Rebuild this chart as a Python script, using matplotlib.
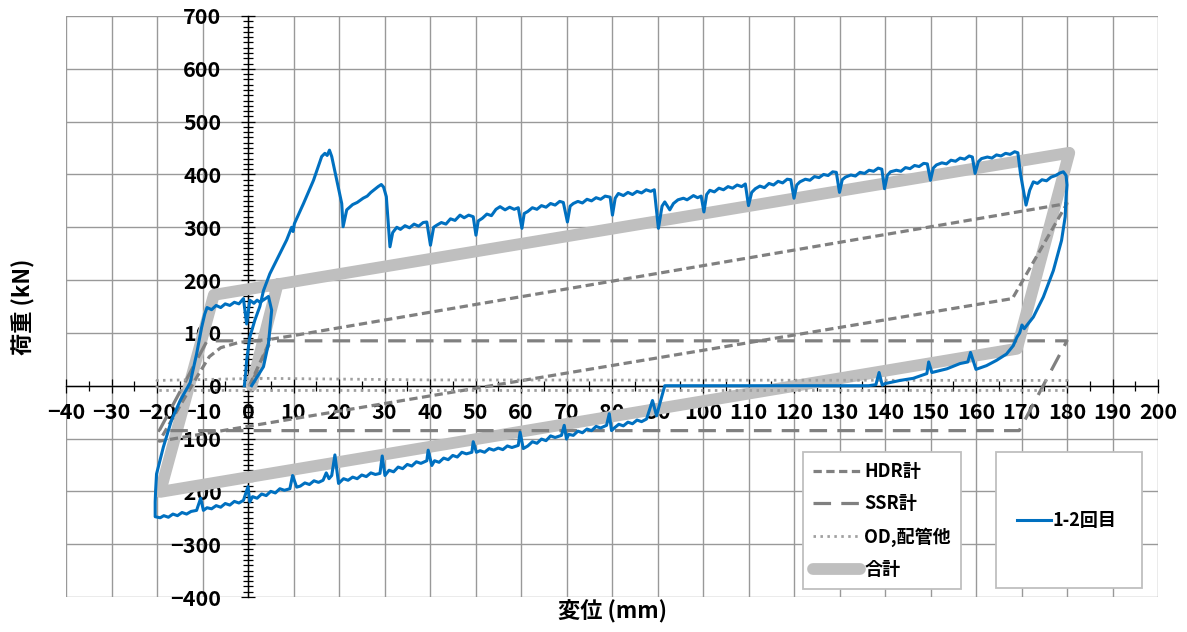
import matplotlib
matplotlib.use("Agg")
import matplotlib.pyplot as plt
from matplotlib.patches import Rectangle
from matplotlib.ticker import MultipleLocator

plt.rcParams['font.family'] = ['Noto Sans CJK JP', 'DejaVu Sans']
plt.rcParams['font.weight'] = 'bold'

# ---- data (displacement mm, load kN) ----
# HDR total
hdr_x = [0.3, 5.0, 10.7, 180.0, 168.0, -19.5, -11.0, -8.5, -6.0, -2.0, 5.0]
hdr_y = [0, 88, 96, 345, 165, -105, 20, 55, 72, 82, 88]

# SSR total
ssr_x = [0.5, 5.0, 180.0, 169.5, -19.5, -9.0, 5.0]
ssr_y = [0, 85, 85, -85, -85, 85, 85]

# OD, piping etc.
od_x = [0, 3, 15, 40, 180, 180, -20, -20, 3]
od_y = [0, 14, 13, 11, 10, -9, -9, 10, 14]

# sum of components
tot_x = [0.8, 6.5, 180.5, 169.0, -19.3, -7.5, 6.5]
tot_y = [0, 192, 441, 70, -201, 172, 192]

# measured, cycles 1-2
blue_x = [
    -0.8, -0.5, -0.3, 0.4, 1.5, 2.6, 3.4, 4.8, 6.3, 8.5, 9.6, 9.9, 10.2, 12.2,
    14.4, 16.2, 16.9, 17.4, 17.9, 18.4, 19.5, 20.6, 20.9, 21.7, 23.0, 24.0,
    25.3, 26.2, 27.0, 28.6, 29.3, 29.8, 30.4, 31.2,
    31.8, 32.7, 33.5, 34.5, 35.5, 36.5, 37.5, 38.5, 39.3, 40.1,
    40.8, 41.5, 42.5, 43.5, 44.5, 45.5, 46.6, 47.5, 48.5, 49.5, 50.1,
    50.6, 51.5, 52.5, 53.5, 54.5, 55.4, 56.5, 57.5, 58.5, 59.4, 60.2,
    60.7, 61.5, 62.5, 63.5, 64.5, 65.5, 66.5, 67.5, 68.5, 69.3, 70.2,
    70.8, 71.5, 72.5, 73.5, 74.5, 75.5, 76.5, 77.5, 78.5, 79.6, 80.1,
    80.7, 81.4, 82.5, 83.5, 84.5, 85.5, 86.5, 87.5, 88.5, 89.3, 90.2,
    91.0, 91.6, 92.7, 93.5, 94.5, 95.7, 96.5, 97.9, 98.8, 99.6, 100.2,
    100.8, 101.5, 102.5, 103.5, 104.5, 105.5, 106.5, 107.5, 108.5, 109.3, 110.0,
    110.7, 111.5, 112.5, 113.5, 114.5, 115.5, 116.5, 117.5, 118.5, 119.3, 120.0,
    120.6, 121.3, 122.5, 123.5, 124.5, 125.5, 126.5, 127.5, 128.5, 129.3, 130.0,
    130.6, 131.3, 132.5, 133.5, 134.5, 135.5, 136.5, 137.5, 138.5, 139.3, 139.9,
    140.5, 141.2, 142.5, 143.5, 144.5, 145.5, 146.5, 147.5, 148.5, 149.3, 150.0,
    150.6, 151.3, 152.5, 153.5, 154.5, 155.5, 156.5, 157.5, 158.5, 159.2, 159.8,
    160.5, 161.2, 162.5, 163.5, 164.5, 165.5, 166.5, 167.5, 168.5, 169.2, 169.8, 171.0,
    171.8, 172.6, 173.5, 174.5, 175.5, 176.5, 177.5, 178.5, 179.2, 179.8,
    180.0, 179.8, 179.6, 178.8, 177.0, 174.8, 172.6, 170.6, 170.1, 169.6, 169.0,
    168.2, 166.7, 164.5, 162.3, 160.0, 159.3, 158.8, 158.2, 156.5, 153.6, 150.3,
    149.6, 149.2, 146.2, 143.3, 140.0, 139.4, 138.7, 138.0, 136.4, 91.6,
    90.5, 89.8, 88.9, 87.6,
    86.5, 85.5, 84.5, 83.5, 82.5, 81.5, 80.5, 79.9, 79.4, 78.8,
    77.5, 76.5, 75.5, 74.5, 73.5, 72.5, 71.5, 70.5, 70.0, 69.5, 68.9,
    67.5, 66.5, 65.5, 64.5, 63.5, 62.5, 61.5, 60.5, 59.8, 59.4,
    58.0, 57.0, 56.0, 55.0, 54.0, 53.0, 52.0, 51.0, 50.2, 49.5, 49.2,
    48.0, 47.0, 46.0, 45.0, 44.0, 43.0, 42.0, 41.0, 40.4, 39.6, 39.3,
    38.0, 37.0, 36.0, 35.0, 34.0, 33.0, 32.0, 31.0, 30.1, 29.5, 29.0,
    28.0, 27.0, 26.0, 25.0, 24.0, 23.0, 22.0, 21.0, 19.9, 19.1, 18.4,
    17.8, 17.2, 16.5, 15.5, 14.5, 13.5, 12.5, 11.5, 10.7, 9.8, 9.2,
    8.0, 7.0, 6.0, 5.0, 4.0, 3.0, 2.0, 1.0, 0.4, 0.0, -1.0,
    -2.0, -3.0, -4.0, -5.0, -6.0, -7.0, -8.0, -9.0, -9.8, -10.4, -11.3,
    -12.5, -13.5, -14.5, -15.5, -16.5, -17.5, -18.5, -19.3, -20.4,
    -20.4, -20.3, -20.1, -18.6, -16.8, -14.9, -12.7, -11.3, -10.2, -9.5, -9.0,
    -8.0, -7.0, -6.0, -5.0, -4.0, -3.0, -2.0, -1.0, -0.3, 0.4, 1.3, 2.0, 2.6,
    3.5, 4.5, 5.2, 4.5, 3.4, 0.8,
]
blue_y = [
    0, 25, 48, 92, 124, 150, 180, 212, 238, 276, 300, 292, 307, 345,
    389, 434, 440, 436, 446, 434, 389, 345, 301, 333, 343, 347,
    355, 359, 366, 377, 381, 376, 358, 263,
    290, 300, 296, 303, 299, 306, 302, 309, 310, 266,
    300, 304, 309, 306, 316, 313, 323, 318, 323, 320, 285,
    312, 317, 325, 322, 334, 339, 333, 338, 334, 337, 298,
    326, 330, 337, 334, 341, 338, 345, 342, 349, 347, 310,
    340, 345, 349, 346, 353, 350, 356, 353, 359, 357, 323,
    355, 364, 360, 366, 362, 368, 365, 371, 368, 371, 298,
    340, 348, 333, 345, 352, 355, 352, 360, 356, 359, 329,
    362, 370, 367, 374, 371, 377, 374, 380, 377, 382, 341,
    366, 373, 378, 375, 383, 380, 387, 384, 391, 390, 355,
    380, 386, 391, 389, 396, 394, 400, 398, 405, 404, 366,
    390, 395, 399, 397, 404, 402, 408, 406, 412, 410, 373,
    398, 405, 408, 406, 413, 411, 417, 415, 421, 420, 389,
    412, 418, 422, 420, 427, 425, 431, 429, 435, 433, 402,
    424, 430, 433, 431, 437, 435, 440, 438, 443, 441, 400, 342,
    370, 386, 383, 390, 388, 395, 398, 403, 405, 398,
    380, 358, 320, 275, 218, 168, 130, 108, 115, 100, 92,
    76, 60, 48, 38, 31, 50, 63, 45, 42, 32, 25,
    45, 23, 14, 10, 4, 1, 25, 2, 0, 0,
    -34, -57, -28, -63,
    -68, -65, -72, -69, -76, -73, -80, -85, -53, -75,
    -80, -77, -85, -82, -89, -86, -94, -92, -101, -75, -94,
    -98, -95, -104, -101, -109, -106, -114, -119, -88, -113,
    -117, -114, -121, -118, -122, -119, -126, -123, -126, -106, -126,
    -129, -126, -135, -132, -140, -137, -145, -142, -151, -122, -142,
    -147, -144, -152, -149, -157, -154, -163, -160, -170, -133, -166,
    -168, -165, -172, -169, -176, -173, -179, -176, -185, -131, -170,
    -176, -165, -179, -183, -180, -187, -184, -190, -192, -170, -195,
    -198, -195, -203, -200, -208, -205, -213, -210, -220, -191, -217,
    -222, -219, -226, -223, -230, -227, -233, -231, -236, -213, -236,
    -238, -243, -240, -246, -243, -249, -246, -250, -248,
    -220, -198, -167, -116, -65, -28, 6, 60, 110, 136, 148,
    144, 152, 148, 155, 152, 158, 155, 165, 117, 162, 156, 162, 158,
    163, 169, 143, 80, 36, 0,
]

x_ticks = list(range(-40, 201, 10))
y_ticks = list(range(-400, 701, 100))

# ---- figure ----
fig = plt.figure(figsize=(11.87, 6.32), dpi=100)
ax = fig.add_axes([66 / 1187, 35 / 632, 1092 / 1187, 581 / 632])

grey = '#808080'
l_tot, = ax.plot(tot_x, tot_y, color='#bfbfbf', lw=8.5, solid_capstyle='round',
                 solid_joinstyle='round', zorder=2, label='合計')
l_hdr, = ax.plot(hdr_x, hdr_y, color=grey, lw=2.3, dashes=(2.6, 1.4),
                 zorder=3, label='HDR計')
l_ssr, = ax.plot(ssr_x, ssr_y, color=grey, lw=2.3, dashes=(5.5, 3.2),
                 zorder=3, label='SSR計')
l_od, = ax.plot(od_x, od_y, color='#a0a0a0', lw=2.0, dashes=(0.9, 1.6),
                zorder=3, label='OD,配管他')
l_blue, = ax.plot(blue_x, blue_y, color='#0070c0', lw=2.2, zorder=4,
                  label='1-2回目')

ax.set_xlim(-40, 200)
ax.set_ylim(-400, 700)
ax.set_xticks(x_ticks)
ax.set_yticks(y_ticks)
ax.xaxis.set_minor_locator(MultipleLocator(5))
ax.yaxis.set_minor_locator(MultipleLocator(10))

ax.spines['left'].set_position(('data', 0))
ax.spines['bottom'].set_position(('data', 0))
ax.spines['top'].set_visible(False)
ax.spines['right'].set_visible(False)
for s in ('left', 'bottom'):
    ax.spines[s].set_linewidth(1.0)
    ax.spines[s].set_zorder(1)

ax.set_axisbelow(True)
ax.grid(True, which='major', color='#999999', lw=1.0)
ax.tick_params(which='major', direction='inout', length=10, width=0.9,
               labelsize=15.5, colors='black')
ax.tick_params(which='minor', direction='inout', length=7, width=0.9)
ax.tick_params(axis='y', pad=14)
ax.tick_params(axis='x', pad=7)

ax.set_xlabel('変位 (mm)', fontsize=16, fontweight='bold')
ax.set_ylabel('荷重 (kN)', fontsize=16, fontweight='bold')
ax.xaxis.set_label_coords(0.5, -0.005)
ax.yaxis.set_label_coords(-0.028, 0.5)

# component legend
leg1 = ax.legend(handles=[l_hdr, l_ssr, l_od, l_tot], loc='upper left',
                 bbox_to_anchor=(0.675, 0.2496), fontsize=13, frameon=True,
                 fancybox=False, edgecolor='#bfbfbf', framealpha=1,
                 handlelength=2.6, handletextpad=0.25, labelspacing=0.75,
                 borderpad=0.55, borderaxespad=0)
leg1.get_frame().set_linewidth(1.3)
ax.add_artist(leg1)

# measured-curve legend box
ax.add_patch(Rectangle((0.8516, 0.0155), 0.1337, 0.234, transform=ax.transAxes,
                       facecolor='white', edgecolor='#bfbfbf', lw=1.3, zorder=4.5))
leg2 = ax.legend(handles=[l_blue], loc='center left', bbox_to_anchor=(0.8706, 0.131),
                 fontsize=13, frameon=False, handlelength=1.9, handletextpad=0.1,
                 borderpad=0, borderaxespad=0)

fig.savefig('out.png', dpi=100)
